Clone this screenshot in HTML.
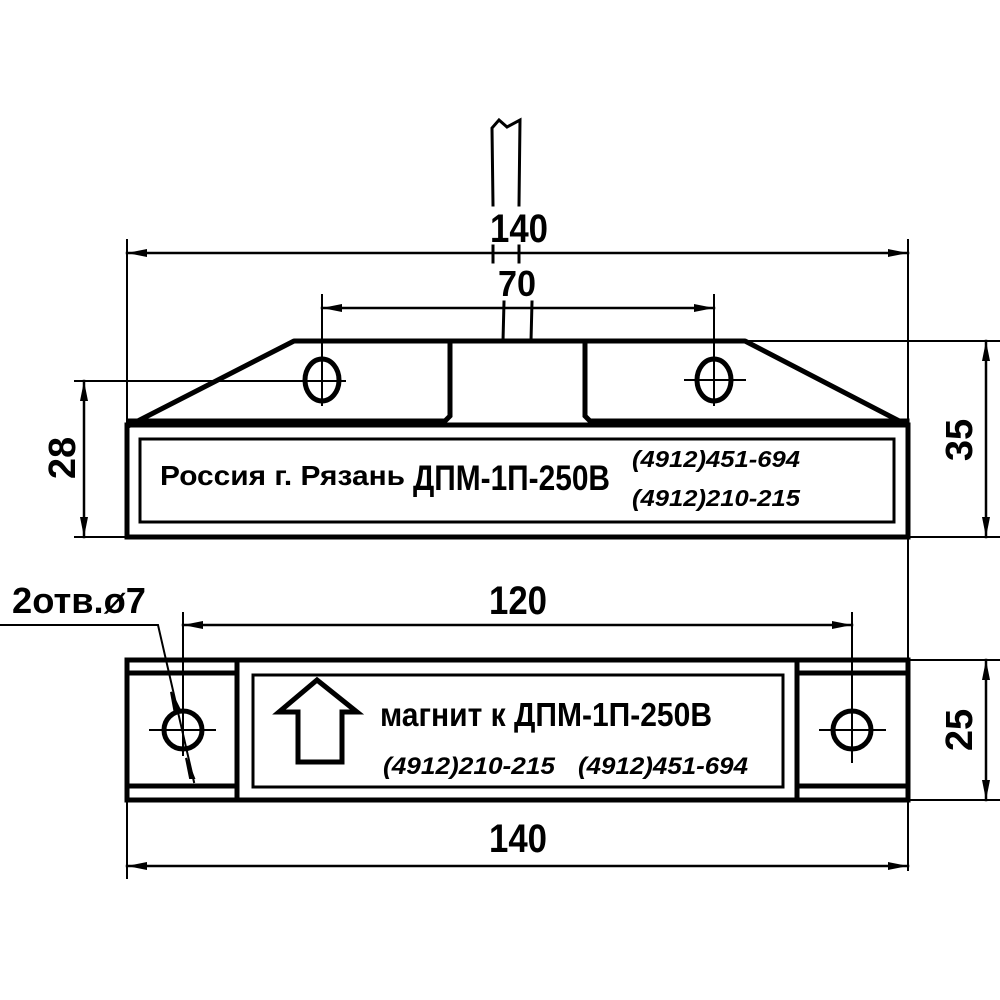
<!DOCTYPE html>
<html><head><meta charset="utf-8"><style>html,body{margin:0;padding:0;background:#fff}svg{display:block}</style></head>
<body>
<svg width="1000" height="1000" viewBox="0 0 1000 1000" xmlns="http://www.w3.org/2000/svg">
<defs>
<marker id="a" viewBox="0 0 20 8" refX="20" refY="4" markerWidth="20" markerHeight="8" markerUnits="userSpaceOnUse" orient="auto-start-reverse"><path d="M0,0 L20,4 L0,8 Z" fill="#000"/></marker>
</defs>
<g stroke="#000" fill="none" stroke-linecap="square">
<path d="M493,205 L492,128 L499,120 L507,127 L520,120 L519,205" stroke-width="3"/>
<line x1="493" y1="246" x2="493" y2="262" stroke-width="3"/>
<line x1="519" y1="246" x2="519" y2="262" stroke-width="3"/>
<line x1="504" y1="302" x2="503" y2="341" stroke-width="3"/>
<line x1="532" y1="302" x2="531" y2="341" stroke-width="3"/>
<path d="M130,425 L294,341 L745,341 L907,425" stroke-width="5" stroke-linejoin="round"/>
<path d="M450,341 L450,416 L445,421 L130,421" stroke-width="5"/>
<path d="M585,341 L585,416 L590,421 L907,421" stroke-width="5"/>
<rect x="127" y="425" width="781" height="112" stroke-width="5"/>
<rect x="140" y="439" width="754" height="83" stroke-width="3"/>
<ellipse cx="322" cy="380" rx="17" ry="21" stroke-width="5"/>
<ellipse cx="714" cy="380" rx="17" ry="21" stroke-width="5"/>
<line x1="685" y1="380" x2="745" y2="380" stroke-width="2"/>
<line x1="127" y1="240" x2="127" y2="425" stroke-width="2"/>
<line x1="908" y1="240" x2="908" y2="870" stroke-width="2"/>
<line x1="127" y1="253" x2="908" y2="253" stroke-width="2.5" marker-start="url(#a)" marker-end="url(#a)"/>
<line x1="322" y1="295" x2="322" y2="405" stroke-width="2"/>
<line x1="714" y1="295" x2="714" y2="405" stroke-width="2"/>
<line x1="322" y1="308" x2="714" y2="308" stroke-width="2.5" marker-start="url(#a)" marker-end="url(#a)"/>
<line x1="745" y1="341" x2="1000" y2="341" stroke-width="2"/>
<line x1="908" y1="537" x2="1000" y2="537" stroke-width="2"/>
<line x1="986" y1="341" x2="986" y2="537" stroke-width="2.5" marker-start="url(#a)" marker-end="url(#a)"/>
<line x1="75" y1="381" x2="345" y2="381" stroke-width="2"/>
<line x1="75" y1="537" x2="127" y2="537" stroke-width="2"/>
<line x1="84" y1="381" x2="84" y2="537" stroke-width="2.5" marker-start="url(#a)" marker-end="url(#a)"/>
<rect x="127" y="660" width="781" height="140" stroke-width="5"/>
<line x1="237" y1="660" x2="237" y2="800" stroke-width="5"/>
<line x1="797" y1="660" x2="797" y2="800" stroke-width="5"/>
<line x1="127" y1="673" x2="237" y2="673" stroke-width="5"/>
<line x1="127" y1="786" x2="237" y2="786" stroke-width="5"/>
<line x1="797" y1="673" x2="908" y2="673" stroke-width="5"/>
<line x1="797" y1="786" x2="908" y2="786" stroke-width="5"/>
<rect x="253" y="675" width="530" height="112" stroke-width="3"/>
<circle cx="183" cy="730" r="19" stroke-width="5"/>
<circle cx="852" cy="730" r="19" stroke-width="5"/>
<line x1="150" y1="730" x2="215" y2="730" stroke-width="2"/>
<line x1="820" y1="730" x2="885" y2="730" stroke-width="2"/>
<line x1="852" y1="613" x2="852" y2="762" stroke-width="2"/>
<line x1="183" y1="613" x2="183" y2="755" stroke-width="2"/>
<path d="M317,680 L357,712 L342,712 L342,762 L298,762 L298,712 L279,712 Z" stroke-width="5" stroke-linejoin="miter"/>
<line x1="183" y1="625" x2="852" y2="625" stroke-width="2.5" marker-start="url(#a)" marker-end="url(#a)"/>
<path d="M0,625 L158,625 L194,782" stroke-width="2"/>
<path d="M171,692 L181,712 L175,714 Z M186,758 L194,778 L190,778 Z" fill="#000" stroke-width="2"/>
<line x1="127" y1="800" x2="127" y2="878" stroke-width="2"/>
<line x1="127" y1="866" x2="908" y2="866" stroke-width="2.5" marker-start="url(#a)" marker-end="url(#a)"/>
<line x1="908" y1="660" x2="1000" y2="660" stroke-width="2"/>
<line x1="908" y1="800" x2="1000" y2="800" stroke-width="2"/>
<line x1="986" y1="660" x2="986" y2="800" stroke-width="2.5" marker-start="url(#a)" marker-end="url(#a)"/>
</g>
<g font-family="Liberation Sans, sans-serif" font-weight="bold" fill="#000">
<text x="490" y="242" font-size="40" textLength="58" lengthAdjust="spacingAndGlyphs">140</text>
<text x="498" y="296" font-size="36" textLength="38" lengthAdjust="spacingAndGlyphs">70</text>
<text x="160" y="485" font-size="28" textLength="245" lengthAdjust="spacingAndGlyphs">Россия г. Рязань</text>
<text x="413" y="490" font-size="35" textLength="197" lengthAdjust="spacingAndGlyphs">ДПМ-1П-250В</text>
<text x="632" y="467" font-size="23" font-style="italic" textLength="168" lengthAdjust="spacingAndGlyphs">(4912)451-694</text>
<text x="632" y="506" font-size="23" font-style="italic" textLength="168" lengthAdjust="spacingAndGlyphs">(4912)210-215</text>
<text transform="translate(972,440) rotate(-90)" font-size="38" text-anchor="middle">35</text>
<text transform="translate(75,458) rotate(-90)" font-size="38" text-anchor="middle">28</text>
<text x="12" y="613" font-size="36" textLength="134" lengthAdjust="spacingAndGlyphs">2отв.ø7</text>
<text x="489" y="614" font-size="40" textLength="58" lengthAdjust="spacingAndGlyphs">120</text>
<text x="380" y="726" font-size="33" textLength="332" lengthAdjust="spacingAndGlyphs">магнит к ДПМ-1П-250В</text>
<text x="383" y="774" font-size="24" font-style="italic" textLength="172" lengthAdjust="spacingAndGlyphs">(4912)210-215</text>
<text x="578" y="774" font-size="24" font-style="italic" textLength="170" lengthAdjust="spacingAndGlyphs">(4912)451-694</text>
<text x="489" y="852" font-size="40" textLength="58" lengthAdjust="spacingAndGlyphs">140</text>
<text transform="translate(972,730) rotate(-90)" font-size="38" text-anchor="middle">25</text>
</g>
</svg>
</body></html>
